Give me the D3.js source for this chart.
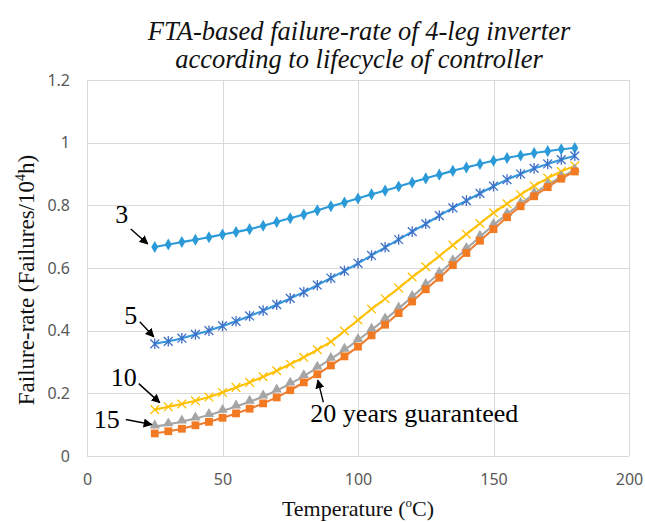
<!DOCTYPE html>
<html>
<head>
<meta charset="utf-8">
<script src="https://cdn.jsdelivr.net/npm/d3@7"></script>
<style>
  html, body { margin: 0; padding: 0; background: #fff; }
  svg { display: block; }
</style>
</head>
<body>
<svg id="chart" width="645" height="522"></svg>
<script>
// Temperature (°C) sampled every 5 degrees
const temperature = d3.range(25, 181, 5);

// Failure-rate (failures / 10^4 h) for each controller lifecycle (years)
const rate3 = [0.667, 0.675, 0.683, 0.690, 0.698, 0.707, 0.715, 0.724, 0.735, 0.747, 0.759, 0.771, 0.784, 0.797, 0.809, 0.822,
               0.835, 0.847, 0.860, 0.873, 0.886, 0.898, 0.910, 0.921, 0.932, 0.942, 0.951, 0.959, 0.967, 0.973, 0.979, 0.983];
const rate5 = [0.358, 0.366, 0.376, 0.388, 0.400, 0.415, 0.430, 0.447, 0.464, 0.483, 0.503, 0.523, 0.545, 0.568, 0.591, 0.615,
               0.640, 0.666, 0.691, 0.716, 0.741, 0.767, 0.792, 0.815, 0.838, 0.861, 0.882, 0.900, 0.918, 0.932, 0.946, 0.958];
const rate10 = [0.148, 0.157, 0.166, 0.176, 0.188, 0.203, 0.219, 0.235, 0.253, 0.272, 0.293, 0.315, 0.339, 0.365, 0.399, 0.434,
                0.469, 0.502, 0.536, 0.571, 0.604, 0.638, 0.673, 0.708, 0.742, 0.776, 0.805, 0.834, 0.862, 0.887, 0.908, 0.926];
const rate15 = [0.094, 0.101, 0.110, 0.120, 0.131, 0.144, 0.158, 0.173, 0.190, 0.209, 0.231, 0.255, 0.282, 0.310, 0.339, 0.370,
                0.403, 0.436, 0.471, 0.508, 0.546, 0.583, 0.622, 0.661, 0.700, 0.737, 0.772, 0.805, 0.837, 0.866, 0.890, 0.912];
const rate20 = [0.072, 0.079, 0.087, 0.098, 0.109, 0.122, 0.136, 0.151, 0.168, 0.187, 0.210, 0.235, 0.261, 0.289, 0.318, 0.349,
                0.385, 0.419, 0.456, 0.493, 0.532, 0.569, 0.609, 0.648, 0.687, 0.724, 0.762, 0.797, 0.829, 0.858, 0.885, 0.908];

const xTicks = [0, 50, 100, 150, 200];
const yTicks = [0, 0.2, 0.4, 0.6, 0.8, 1.0, 1.2];

const svg = d3.select("#chart");
const plot = { left: 87, right: 629, top: 80, bottom: 456 };

const x = d3.scaleLinear().domain([0, 200]).range([plot.left, plot.right]);
const y = d3.scaleLinear().domain([0, 1.2]).range([plot.bottom, plot.top]);

// Series styling: line colour, marker shape and marker colour
const series = [
  { name: "3",  values: rate3,  line: "#2b9ad8", mark: "#2b9ad8", shape: "diamond" },
  { name: "5",  values: rate5,  line: "#3497da", mark: "#3d70c8", shape: "asterisk" },
  { name: "10", values: rate10, line: "#ffc000", mark: "#ffc000", shape: "cross" },
  { name: "15", values: rate15, line: "#a5a5a5", mark: "#a5a5a5", shape: "triangle" },
  { name: "20", values: rate20, line: "#ed7d31", mark: "#f27a22", shape: "square" }
];

// Grid lines
const grid = svg.append("g").attr("class", "grid");
grid.selectAll("line.h").data(yTicks).join("line")
  .attr("class", "h")
  .attr("x1", plot.left).attr("x2", plot.right)
  .attr("y1", d => Math.round(y(d)) + 0.5).attr("y2", d => Math.round(y(d)) + 0.5)
  .attr("stroke", "#d9d9d9").attr("stroke-width", 1);
grid.selectAll("line.v").data(xTicks).join("line")
  .attr("class", "v")
  .attr("y1", plot.top).attr("y2", plot.bottom)
  .attr("x1", d => Math.round(x(d)) + 0.5).attr("x2", d => Math.round(x(d)) + 0.5)
  .attr("stroke", "#d9d9d9").attr("stroke-width", 1);

// Axes (tick labels only, Excel style)
const tickFont = "'Noto Sans', 'Liberation Sans', sans-serif";
const yAxis = svg.append("g")
  .attr("transform", `translate(${plot.left},0)`)
  .call(d3.axisLeft(y).tickValues(yTicks).tickSize(0).tickPadding(17)
        .tickFormat(d => d3.format("~g")(d)));
const xAxis = svg.append("g")
  .attr("transform", `translate(0,${plot.bottom})`)
  .call(d3.axisBottom(x).tickValues(xTicks).tickSize(0).tickPadding(18)
        .tickFormat(d3.format("d")));
[xAxis, yAxis].forEach(a => {
  a.select(".domain").remove();
  a.selectAll("text").attr("font-family", tickFont).attr("font-size", 16).attr("fill", "#595959");
});

// Lines
const line = d3.line()
  .x((d, i) => x(temperature[i]))
  .y(d => y(d))
  .curve(d3.curveCatmullRom.alpha(0.5));

const seriesG = svg.append("g");
series.forEach(s => {
  seriesG.append("path")
    .attr("d", line(s.values))
    .attr("fill", "none")
    .attr("stroke", s.line)
    .attr("stroke-width", 2.1);
});

// Markers
function drawMarker(g, shape, color) {
  if (shape === "diamond") {
    g.append("path").attr("d", d3.symbol(d3.symbolDiamond, 42)()).attr("fill", color);
  } else if (shape === "triangle") {
    g.append("path").attr("d", d3.symbol(d3.symbolTriangle, 46)()).attr("fill", color)
      .attr("transform", "translate(0,-1)");
  } else if (shape === "square") {
    g.append("rect").attr("x", -3.9).attr("y", -3.9).attr("width", 7.8).attr("height", 7.8).attr("fill", color);
  } else if (shape === "asterisk") {
    const r = 4.4;
    g.append("path")
      .attr("d", `M${-r},${-r}L${r},${r}M${-r},${r}L${r},${-r}M0,${-r * 1.2}L0,${r * 1.2}`)
      .attr("stroke", color).attr("stroke-width", 1.3).attr("fill", "none");
  } else if (shape === "cross") {
    const r = 4.3;
    g.append("path")
      .attr("d", `M${-r},${-r}L${r},${r}M${-r},${r}L${r},${-r}`)
      .attr("stroke", color).attr("stroke-width", 1.3).attr("fill", "none");
  }
}
series.forEach(s => {
  s.values.forEach((v, i) => {
    const g = seriesG.append("g").attr("transform", `translate(${x(temperature[i])},${y(v)})`);
    drawMarker(g, s.shape, s.mark);
  });
});

// Title
const serif = "'Liberation Serif', 'Times New Roman', serif";
const title = svg.append("text")
  .attr("x", 359).attr("y", 40)
  .attr("text-anchor", "middle")
  .attr("font-family", serif).attr("font-style", "italic").attr("font-size", 26.5).attr("fill", "#111");
title.append("tspan").attr("x", 359).attr("y", 40).text("FTA-based failure-rate of 4-leg inverter");
title.append("tspan").attr("x", 359).attr("y", 68).text("according to lifecycle of controller");

// Axis titles
const xTitle = svg.append("text")
  .attr("x", 358).attr("y", 516)
  .attr("text-anchor", "middle")
  .attr("font-family", serif).attr("font-size", 22).attr("fill", "#111");
xTitle.append("tspan").text("Temperature (");
xTitle.append("tspan").attr("font-size", 13).attr("dy", -9).text("o");
xTitle.append("tspan").attr("dy", 9).text("C)");

const yTitle = svg.append("text")
  .attr("transform", "translate(34,280) rotate(-90)")
  .attr("text-anchor", "middle")
  .attr("font-family", serif).attr("font-size", 23).attr("fill", "#111");
yTitle.append("tspan").text("Failure-rate (Failures/10");
yTitle.append("tspan").attr("font-size", 14).attr("dy", -9).text("4");
yTitle.append("tspan").attr("dy", 9).text("h)");

// Annotations: label + arrow pointing at a series point
svg.append("defs").append("marker")
  .attr("id", "arrowhead")
  .attr("viewBox", "0 0 10 10")
  .attr("refX", 9).attr("refY", 5)
  .attr("markerWidth", 9).attr("markerHeight", 9)
  .attr("markerUnits", "userSpaceOnUse")
  .attr("orient", "auto")
  .append("path").attr("d", "M0,0L10,5L0,10z").attr("fill", "#000");

const notes = [
  { text: "3",  series: 0, at: 25, label: [-33, -24], anchor: "middle", from: [-24, -18], to: [-7, -3] },
  { text: "5",  series: 1, at: 25, label: [-24, -20], anchor: "middle", from: [-15, -22], to: [-1, -7] },
  { text: "10", series: 2, at: 25, label: [-31, -24], anchor: "middle", from: [-16, -26], to: [5, -7] },
  { text: "15", series: 3, at: 25, label: [-48, 1],   anchor: "middle", from: [-29, -7],  to: [-3, -2] },
  { text: "20 years guaranteed", series: 4, at: 85, label: [-7, 48], anchor: "start", from: [6, 28], to: [0.5, 6] }
];
notes.forEach(n => {
  const i = temperature.indexOf(n.at);
  const px = x(n.at), py = y(series[n.series].values[i]);
  svg.append("line")
    .attr("x1", px + n.from[0]).attr("y1", py + n.from[1])
    .attr("x2", px + n.to[0]).attr("y2", py + n.to[1])
    .attr("stroke", "#000").attr("stroke-width", 1.4)
    .attr("marker-end", "url(#arrowhead)");
  svg.append("text")
    .attr("x", px + n.label[0]).attr("y", py + n.label[1])
    .attr("text-anchor", n.anchor)
    .attr("font-family", serif).attr("font-size", 26).attr("fill", "#000")
    .text(n.text);
});
</script>
</body>
</html>
